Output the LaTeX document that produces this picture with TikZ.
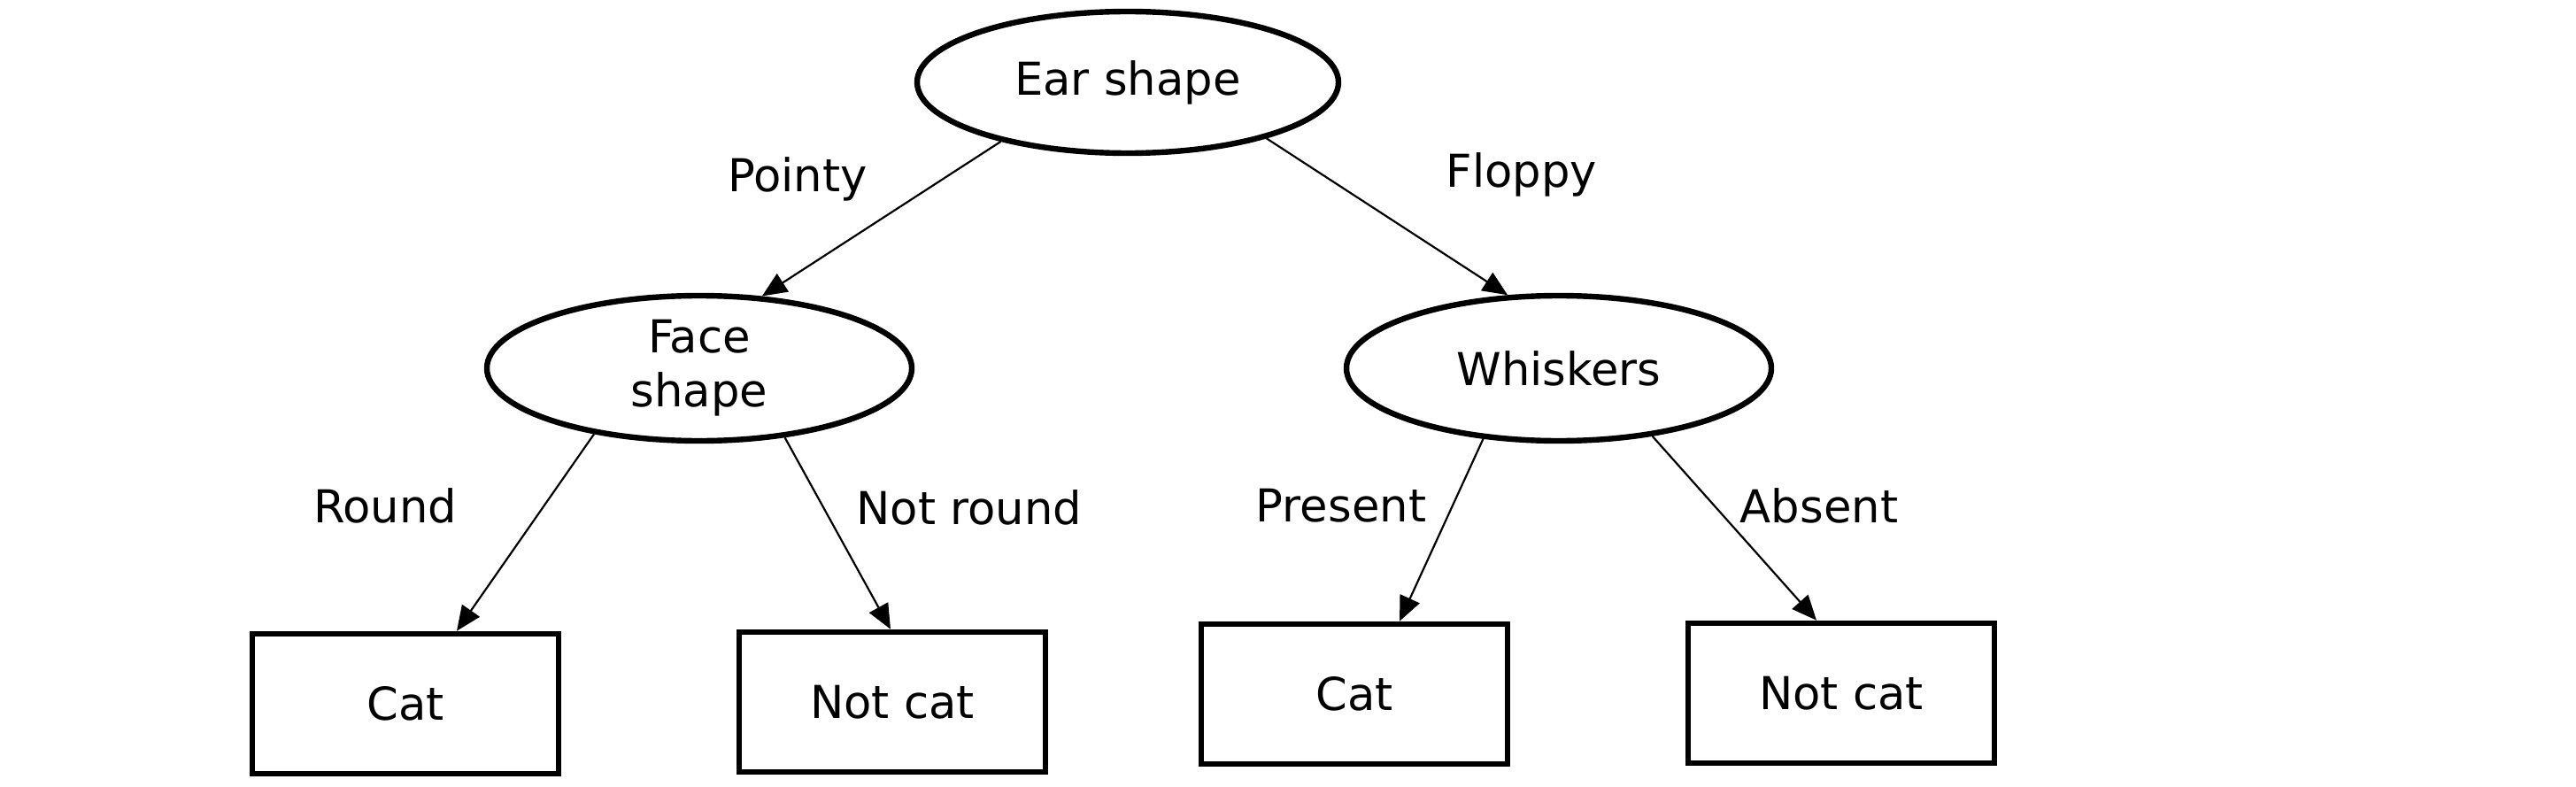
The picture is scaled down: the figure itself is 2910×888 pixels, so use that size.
\documentclass[tikz,border=0pt]{standalone}
\usepackage{fontspec}
\setmainfont{DejaVu Sans}
\usetikzlibrary{positioning, calc, arrows.meta, shapes.geometric}
\tikzstyle{test}=[draw, ellipse, line width=1.6pt, inner sep=0pt, align=center, minimum width=120pt, minimum height=41pt]
\tikzstyle{leaf}=[draw, rectangle, line width=1.65pt, minimum width=86.5pt, minimum height=39.5pt]
\tikzstyle{branch}=[-{Triangle[length=7pt, width=6pt]}, line width=0.55pt]
\tikzstyle{lab}=[inner sep=0pt]

\begin{document}
\begin{tikzpicture}[x=0.25pt, y=-0.25pt, font=\fontsize{12.8}{15.2}\selectfont]
\useasboundingbox (0,0) rectangle (2910,888);

\node[test, minimum width=119pt, minimum height=40pt](ear) at (1274,93){Ear shape};
\node[test](face) at (790,416){Face\\shape};
\node[test](whisk) at (1761,416){Whiskers};

\node[leaf](cat1) at (458,795){Cat};
\node[leaf](notcat1) at (1008,793){Not cat};
\node[leaf](cat2) at (1530,784){Cat};
\node[leaf](notcat2) at (2080,783){Not cat};

% branch labels
\node[lab](pointy) at (901,202){Pointy};
\node[lab](floppy) at (1719,197){Floppy};
\node[lab](round) at (435,571){Round};
\node[lab](notround) at (1095,573){Not round};
\node[lab](present) at (1515,571){Present};
\node[lab](absent) at (2055,571){Absent};

\draw[branch] (ear.205) -- (face.49);
\draw[branch] (ear.338) -- (whisk.125);
\draw[branch] (face.212) -- ($(cat1.north)+(58,0)$);
\draw[branch] (face.321) -- ($(notcat1.north)+(-2,0)$);
\draw[branch] (whisk.223) -- ($(cat2.north)+(51,0)$);
\draw[branch] (whisk.324) -- ($(notcat2.north)+(-28,0)$);

\end{tikzpicture}
\end{document}
